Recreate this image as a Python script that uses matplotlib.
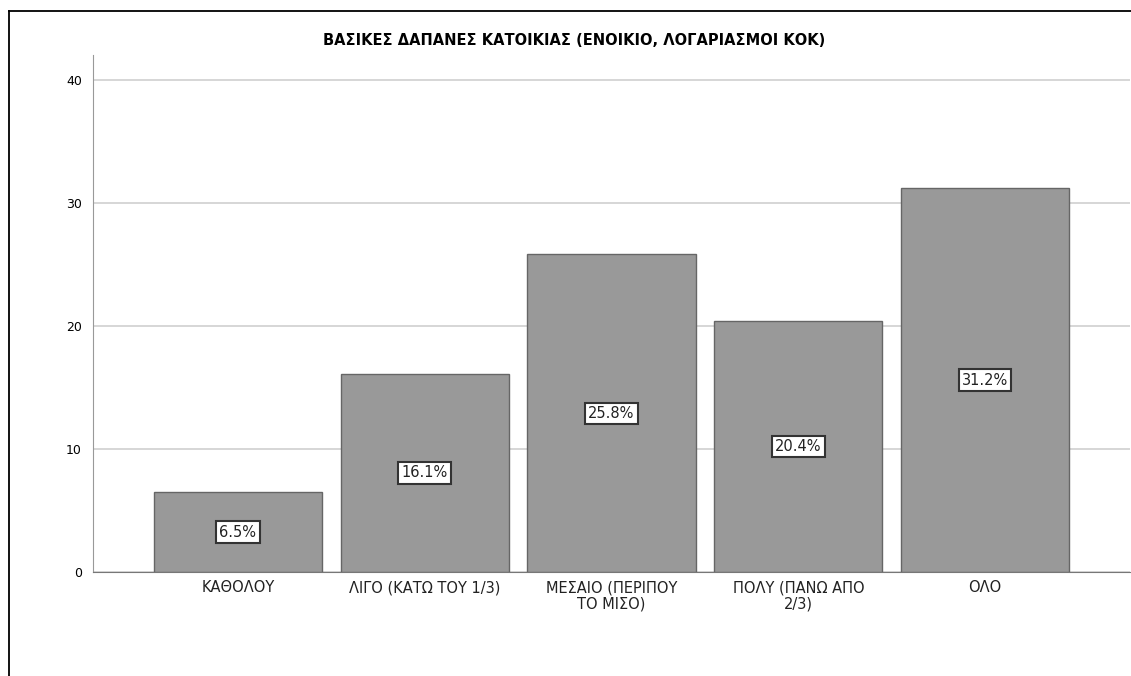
import matplotlib.pyplot as plt
from matplotlib.lines import Line2D
import numpy as np

plt.rcParams["font.family"] = ["DejaVu Sans"]

categories = ["ΚΑΘΟΛΟΥ", "ΛΙΓΟ (ΚΑΤΩ ΤΟΥ 1/3)", "ΜΕΣΑΙΟ (ΠΕΡΙΠΟΥ\nΤΟ ΜΙΣΟ)",
              "ΠΟΛΥ (ΠΑΝΩ ΑΠΟ\n2/3)", "ΟΛΟ"]
percent = [6.5, 16.1, 25.8, 20.4, 31.2]
yticks = [0, 10, 20, 30, 40]
title = "ΒΑΣΙΚΕΣ ΔΑΠΑΝΕΣ ΚΑΤΟΙΚΙΑΣ (ΕΝΟΙΚΙΟ, ΛΟΓΑΡΙΑΣΜΟΙ ΚΟΚ)"

fig = plt.figure(figsize=(11.31, 6.76), dpi=100)
ax = fig.add_axes([0.0822, 0.1538, 0.9170, 0.7648])

x = np.arange(len(categories))
ax.bar(x, percent, width=0.9, color="#999999", edgecolor="#666666", linewidth=1, zorder=2)
for xi, v in zip(x, percent):
    ax.text(xi, v / 2, f"{v}%", ha="center", va="center", fontsize=10.5, color="#222222",
            bbox=dict(boxstyle="square,pad=0.22", fc="white", ec="#333333", lw=1.5), zorder=3)

ax.set_xlim(-0.776, 4.776)
ax.set_ylim(0, 42)
ax.set_yticks(yticks)
ax.set_xticks(x)
ax.set_xticklabels(categories, fontsize=10.5, color="#222222", linespacing=1.1)
ax.tick_params(axis="y", length=0, labelsize=9, pad=8)
ax.tick_params(axis="x", length=0, pad=6)
ax.grid(axis="y", color="#d0d0d0", linewidth=1.2, zorder=0)
for s in ["top", "right"]:
    ax.spines[s].set_visible(False)
ax.spines["left"].set_color("#999999")
ax.spines["bottom"].set_color("#777777")

fig.text(0.508, 0.94, title, ha="center", va="center", fontsize=10.5, fontweight="bold")

# outer frame (top and left edges)
fig.add_artist(Line2D([9 / 1131, 1.0], [1 - 11 / 676, 1 - 11 / 676], color="black", lw=1.3))
fig.add_artist(Line2D([9 / 1131, 9 / 1131], [0, 1 - 11 / 676], color="black", lw=1.3))

fig.savefig("out.png", dpi=100)
